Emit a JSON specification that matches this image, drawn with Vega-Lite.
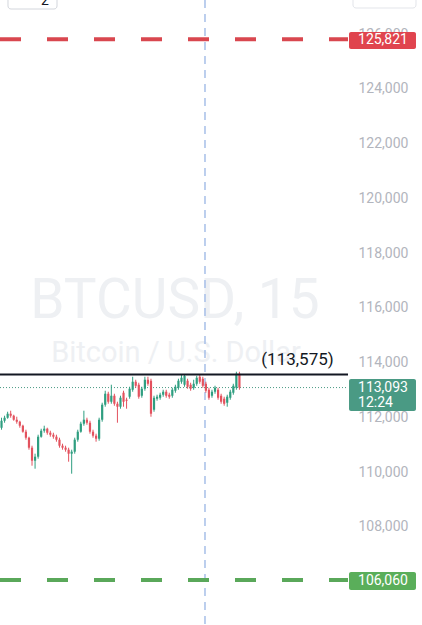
{
  "$schema": "https://vega.github.io/schema/vega-lite/v6.json",
  "width": 422,
  "height": 625,
  "autosize": {"type": "none"},
  "padding": 0,
  "background": "white",
  "config": {"view": {"stroke": null}},
  "data": {"values": [{"note": "annotation"}]},
  "datasets": {
    "candles": [
      {"t":0,"o":111627,"h":111992,"l":111554,"c":111882},
      {"t":1,"o":111882,"h":112065,"l":111809,"c":111992},
      {"t":2,"o":111992,"h":112211,"l":111955,"c":112138},
      {"t":3,"o":112138,"h":112248,"l":111992,"c":112065},
      {"t":4,"o":112065,"h":112101,"l":111882,"c":111919},
      {"t":5,"o":111919,"h":112028,"l":111773,"c":111846},
      {"t":6,"o":111846,"h":111882,"l":111627,"c":111700},
      {"t":7,"o":111700,"h":111736,"l":111444,"c":111481},
      {"t":8,"o":111481,"h":111554,"l":111189,"c":111262},
      {"t":9,"o":111262,"h":111298,"l":110824,"c":110897},
      {"t":10,"o":110897,"h":110970,"l":110239,"c":110422},
      {"t":11,"o":110422,"h":110678,"l":110130,"c":110568},
      {"t":12,"o":110568,"h":111371,"l":110495,"c":111298},
      {"t":13,"o":111298,"h":111590,"l":111262,"c":111517},
      {"t":14,"o":111517,"h":111700,"l":111444,"c":111590},
      {"t":15,"o":111590,"h":111627,"l":111371,"c":111444},
      {"t":16,"o":111444,"h":111517,"l":111298,"c":111371},
      {"t":17,"o":111371,"h":111444,"l":111225,"c":111298},
      {"t":18,"o":111298,"h":111371,"l":111116,"c":111189},
      {"t":19,"o":111189,"h":111262,"l":110897,"c":110970},
      {"t":20,"o":110970,"h":111043,"l":110824,"c":110897},
      {"t":21,"o":110897,"h":110970,"l":110751,"c":110824},
      {"t":22,"o":110824,"h":110897,"l":110385,"c":110678},
      {"t":23,"o":110678,"h":110824,"l":109947,"c":110751},
      {"t":24,"o":110751,"h":111262,"l":110678,"c":111189},
      {"t":25,"o":111189,"h":111554,"l":111116,"c":111481},
      {"t":26,"o":111481,"h":111846,"l":111444,"c":111773},
      {"t":27,"o":111773,"h":112248,"l":111700,"c":111919},
      {"t":28,"o":111919,"h":111992,"l":111736,"c":111809},
      {"t":29,"o":111809,"h":111882,"l":111408,"c":111481},
      {"t":30,"o":111481,"h":111554,"l":111262,"c":111335},
      {"t":31,"o":111335,"h":111408,"l":111116,"c":111225},
      {"t":32,"o":111225,"h":111992,"l":111152,"c":111919},
      {"t":33,"o":111919,"h":112540,"l":111846,"c":112467},
      {"t":34,"o":112467,"h":112978,"l":112394,"c":112868},
      {"t":35,"o":112868,"h":112941,"l":112503,"c":112576},
      {"t":36,"o":112576,"h":113197,"l":112503,"c":112795},
      {"t":37,"o":112795,"h":112868,"l":112430,"c":112503},
      {"t":38,"o":112503,"h":112576,"l":111809,"c":112394},
      {"t":39,"o":112394,"h":112795,"l":112321,"c":112722},
      {"t":40,"o":112905,"h":112978,"l":112394,"c":112576},
      {"t":41,"o":112649,"h":112722,"l":112321,"c":112613},
      {"t":42,"o":112759,"h":113124,"l":112686,"c":113051},
      {"t":43,"o":113014,"h":113489,"l":112941,"c":113306},
      {"t":44,"o":113306,"h":113379,"l":113087,"c":113160},
      {"t":45,"o":113197,"h":113270,"l":112686,"c":112759},
      {"t":46,"o":112795,"h":113124,"l":112722,"c":113051},
      {"t":47,"o":113051,"h":113489,"l":112978,"c":113379},
      {"t":48,"o":113379,"h":113489,"l":113160,"c":113233},
      {"t":49,"o":113343,"h":113416,"l":112028,"c":112138},
      {"t":50,"o":112284,"h":112795,"l":112211,"c":112722},
      {"t":51,"o":112686,"h":112832,"l":112613,"c":112759},
      {"t":52,"o":112722,"h":112905,"l":112649,"c":112832},
      {"t":53,"o":112832,"h":113014,"l":112759,"c":112941},
      {"t":54,"o":112941,"h":113014,"l":112722,"c":112795},
      {"t":55,"o":112832,"h":112905,"l":112686,"c":112759},
      {"t":56,"o":112795,"h":113087,"l":112722,"c":113014},
      {"t":57,"o":112978,"h":113197,"l":112905,"c":113124},
      {"t":58,"o":113087,"h":113416,"l":113014,"c":113343},
      {"t":59,"o":113306,"h":113562,"l":113233,"c":113452},
      {"t":60,"o":113197,"h":113562,"l":113124,"c":113525},
      {"t":61,"o":113343,"h":113416,"l":113051,"c":113124},
      {"t":62,"o":113197,"h":113270,"l":112978,"c":113051},
      {"t":63,"o":113087,"h":113379,"l":113014,"c":113233},
      {"t":64,"o":113233,"h":113525,"l":113160,"c":113452},
      {"t":65,"o":113489,"h":113562,"l":113233,"c":113306},
      {"t":66,"o":113416,"h":113489,"l":113087,"c":113160},
      {"t":67,"o":113233,"h":113306,"l":112905,"c":112978},
      {"t":68,"o":113014,"h":113087,"l":112649,"c":112722},
      {"t":69,"o":112795,"h":113014,"l":112722,"c":112941},
      {"t":70,"o":112941,"h":113160,"l":112868,"c":113087},
      {"t":71,"o":113014,"h":113087,"l":112649,"c":112722},
      {"t":72,"o":112795,"h":112868,"l":112503,"c":112576},
      {"t":73,"o":112686,"h":112759,"l":112430,"c":112503},
      {"t":74,"o":112540,"h":112832,"l":112394,"c":112759},
      {"t":75,"o":112722,"h":113014,"l":112649,"c":112941},
      {"t":76,"o":112905,"h":113233,"l":112832,"c":113160},
      {"t":77,"o":113087,"h":113671,"l":113014,"c":113598},
      {"t":78,"o":113598,"h":113671,"l":113014,"c":113093}
    ]
  },
  "encoding": {
    "x": {"type": "quantitative", "scale": {"domain": [-0.5, 137.86], "nice": false, "zero": false, "padding": 0}, "axis": null},
    "y": {"type": "quantitative", "scale": {"domain": [104420, 127251], "nice": false, "zero": false, "padding": 0},
      "axis": {"orient": "right", "offset": -64, "values": [106000,108000,110000,112000,114000,116000,118000,120000,122000,124000,126000], "format": ",.0f", "domain": false, "ticks": false, "grid": false, "labelPadding": 0, "labelAlign": "left", "labelColor": "#b2b5bd", "labelFontSize": 14, "labelFont": "Roboto", "title": null, "zindex": 0}}
  },
  "layer": [
    {
      "mark": {"type": "text", "font": "Roboto", "fontSize": 55, "color": "#eef0f3", "align": "center", "baseline": "alphabetic"},
      "encoding": {"x": {"datum": 56.88, "type": "quantitative"}, "y": {"datum": 115635, "type": "quantitative"}, "text": {"value": "BTCUSD, 15"}}
    },
    {
      "mark": {"type": "text", "font": "Roboto", "fontSize": 29, "color": "#eef0f3", "align": "center", "baseline": "alphabetic"},
      "encoding": {"x": {"datum": 57.2, "type": "quantitative"}, "y": {"datum": 114027, "type": "quantitative"}, "text": {"value": "Bitcoin / U.S. Dollar"}}
    },
    {
      "mark": {"type": "rule", "color": "#a6bfe8", "strokeWidth": 1.5, "strokeDash": [8, 6]},
      "encoding": {"x": {"datum": 66.71, "type": "quantitative"}}
    },
    {
      "mark": {"type": "rule", "color": "#d9474f", "strokeWidth": 4, "strokeDash": [21, 26]},
      "encoding": {"x": {"datum": -0.5, "type": "quantitative"}, "x2": {"datum": 113.6}, "y": {"datum": 125821, "type": "quantitative"}}
    },
    {
      "mark": {"type": "rule", "color": "#5aa85a", "strokeWidth": 4, "strokeDash": [21, 26]},
      "encoding": {"x": {"datum": -0.5, "type": "quantitative"}, "x2": {"datum": 113.6}, "y": {"datum": 106060, "type": "quantitative"}}
    },
    {
      "mark": {"type": "rule", "color": "#4a9a84", "strokeWidth": 1, "strokeDash": [1, 2]},
      "encoding": {"x": {"datum": -0.5, "type": "quantitative"}, "x2": {"datum": 113.6}, "y": {"datum": 113093, "type": "quantitative"}}
    },
    {
      "data": {"name": "candles"},
      "mark": {"type": "rule", "strokeWidth": 1},
      "encoding": {
        "x": {"field": "t", "type": "quantitative"},
        "y": {"field": "l", "type": "quantitative"},
        "y2": {"field": "h"},
        "color": {"condition": {"test": "datum.c >= datum.o", "value": "#2f9e80"}, "value": "#e3525e"}
      }
    },
    {
      "data": {"name": "candles"},
      "mark": {"type": "bar", "size": 2.2},
      "encoding": {
        "x": {"field": "t", "type": "quantitative"},
        "y": {"field": "o", "type": "quantitative"},
        "y2": {"field": "c"},
        "color": {"condition": {"test": "datum.c >= datum.o", "value": "#2f9e80"}, "value": "#e3525e"}
      }
    },
    {
      "mark": {"type": "rule", "color": "#131722", "strokeWidth": 2},
      "encoding": {"x": {"datum": -0.5, "type": "quantitative"}, "x2": {"datum": 113.6}, "y": {"datum": 113575, "type": "quantitative"}}
    },
    {
      "mark": {"type": "text", "font": "Roboto", "fontSize": 17, "color": "#131722", "align": "center", "baseline": "middle"},
      "encoding": {"x": {"datum": 97.04, "type": "quantitative"}, "y": {"datum": 114100, "type": "quantitative"}, "text": {"value": "(113,575)"}}
    },
    {
      "mark": {"type": "rect", "color": "#e0444e", "cornerRadius": 2},
      "encoding": {"x": {"datum": 113.93, "type": "quantitative"}, "x2": {"datum": 135.89}, "y": {"datum": 126082, "type": "quantitative"}, "y2": {"datum": 125461}}
    },
    {
      "mark": {"type": "rect", "color": "#4a9a84", "cornerRadius": 2},
      "encoding": {"x": {"datum": 113.93, "type": "quantitative"}, "x2": {"datum": 135.89}, "y": {"datum": 113406, "type": "quantitative"}, "y2": {"datum": 112237}}
    },
    {
      "mark": {"type": "rect", "color": "#5aae5a", "cornerRadius": 2},
      "encoding": {"x": {"datum": 113.93, "type": "quantitative"}, "x2": {"datum": 135.89}, "y": {"datum": 106356, "type": "quantitative"}, "y2": {"datum": 105699}}
    },
    {
      "mark": {"type": "text", "font": "Roboto", "fontSize": 14, "color": "white", "align": "left", "baseline": "middle"},
      "encoding": {"x": {"datum": 116.88, "type": "quantitative"}, "y": {"datum": 125772, "type": "quantitative"}, "text": {"value": "125,821"}}
    },
    {
      "mark": {"type": "text", "font": "Roboto", "fontSize": 14, "color": "white", "align": "left", "baseline": "middle"},
      "encoding": {"x": {"datum": 116.88, "type": "quantitative"}, "y": {"datum": 113078, "type": "quantitative"}, "text": {"value": "113,093"}}
    },
    {
      "mark": {"type": "text", "font": "Roboto", "fontSize": 14, "color": "white", "align": "left", "baseline": "middle"},
      "encoding": {"x": {"datum": 116.88, "type": "quantitative"}, "y": {"datum": 112530, "type": "quantitative"}, "text": {"value": "12:24"}}
    },
    {
      "mark": {"type": "text", "font": "Roboto", "fontSize": 14, "color": "white", "align": "left", "baseline": "middle"},
      "encoding": {"x": {"datum": 116.88, "type": "quantitative"}, "y": {"datum": 106027, "type": "quantitative"}, "text": {"value": "106,060"}}
    },
    {
      "mark": {"type": "rect", "fill": "white", "stroke": "#d3d6dc", "strokeWidth": 1, "cornerRadius": 3},
      "encoding": {"x": {"datum": 2.12, "type": "quantitative"}, "x2": {"datum": 18.19}, "y": {"datum": 127600, "type": "quantitative"}, "y2": {"datum": 126922}}
    },
    {
      "mark": {"type": "text", "font": "Roboto", "fontSize": 14, "color": "#131722", "align": "center", "baseline": "alphabetic"},
      "encoding": {"x": {"datum": 14.25, "type": "quantitative"}, "y": {"datum": 127068, "type": "quantitative"}, "text": {"value": "2"}}
    },
    {
      "mark": {"type": "rect", "fill": "white", "stroke": "#e3e5ea", "strokeWidth": 1, "cornerRadius": 3},
      "encoding": {"x": {"datum": 115.24, "type": "quantitative"}, "x2": {"datum": 135.89}, "y": {"datum": 127600, "type": "quantitative"}, "y2": {"datum": 126959}}
    }
  ]
}
